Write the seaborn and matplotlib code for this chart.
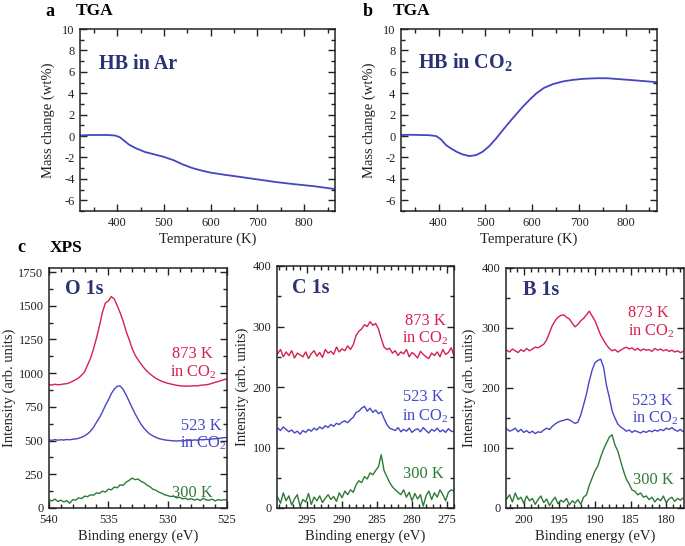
import numpy as np
import pandas as pd
import seaborn as sns
import matplotlib
matplotlib.use("Agg")
import matplotlib.pyplot as plt
from matplotlib.ticker import MultipleLocator

# ---------------- data ----------------
# TGA, HB in Ar
temp_ar = [320, 340, 360, 380, 395, 405, 415, 425, 440, 460, 480, 500, 520, 540, 560,
           580, 600, 630, 660, 700, 740, 780, 820, 866]
mass_ar = [0.05, 0.1, 0.1, 0.1, 0.05, -0.1, -0.45, -0.8, -1.15, -1.5, -1.72, -1.95, -2.25,
           -2.65, -2.98, -3.22, -3.42, -3.62, -3.8, -4.05, -4.3, -4.5, -4.68, -4.95]
# TGA, HB in CO2
temp_co2 = [320, 340, 360, 380, 395, 405, 416, 428, 440, 452, 466, 480, 494, 508, 523, 537,
            552, 566, 580, 595, 609, 625, 644, 665, 687, 710, 737, 760, 787, 820, 866]
mass_co2 = [0.1, 0.12, 0.1, 0.08, 0.0, -0.3, -0.84, -1.2, -1.5, -1.72, -1.87, -1.78, -1.47,
            -0.95, -0.22, 0.55, 1.34, 2.05, 2.75, 3.42, 4.0, 4.5, 4.85, 5.1, 5.25, 5.35, 5.4,
            5.4, 5.31, 5.2, 5.03]

# XPS O 1s (binding energy 540.00 -> 525.00 eV, 0.25 eV step)
o1s_energy = np.round(np.arange(540.0, 524.99, -0.25), 2)
o1s_873 = [915, 912, 918, 914, 916, 920, 922, 930, 940, 952, 965, 985, 1010, 1060, 1110,
           1180, 1260, 1350, 1450, 1520, 1535, 1568, 1550, 1500, 1447, 1385, 1310, 1250,
           1185, 1135, 1100, 1068, 1040, 1015, 995, 978, 962, 950, 940, 932, 925, 920, 915,
           910, 907, 905, 903, 905, 904, 907, 906, 910, 912, 914, 918, 925, 932, 938, 945,
           952, 958]
o1s_523 = [505, 502, 507, 503, 506, 504, 508, 506, 510, 512, 517, 525, 535, 550, 570, 598,
           635, 670, 712, 760, 801, 848, 882, 903, 905, 880, 838, 792, 745, 700, 660, 622,
           592, 568, 548, 535, 524, 515, 510, 505, 502, 500, 498, 497, 499, 496, 500, 502,
           501, 505, 503, 507, 506, 509, 508, 512, 514, 516, 519, 521, 524]
o1s_300 = [60, 52, 66, 48, 58, 45, 55, 35, 62, 58, 75, 70, 88, 84, 98, 95, 112, 108, 125,
           118, 140, 135, 155, 150, 172, 168, 192, 205, 222, 210, 215, 198, 188, 170, 158,
           140, 132, 118, 110, 98, 92, 85, 88, 75, 80, 68, 72, 62, 70, 58, 66, 55, 72, 60,
           58, 66, 52, 63, 56, 62, 58]

# XPS C 1s (299.2 -> 274.0 eV, 0.4 eV step)
c1s_energy = np.round(np.arange(299.2, 273.99, -0.4), 1)
c1s_873 = [255, 262, 250, 258, 252, 260, 248, 256, 253, 250,
           258, 247, 255, 260, 251, 257, 249, 262, 256, 259,
           254, 266, 258, 263, 260, 268, 262, 270, 285, 292,
           296, 303, 300, 308, 302, 305, 296, 280, 266, 262,
           264, 256, 260, 252, 258, 255, 262, 250, 257, 253,
           248, 259, 254, 250, 247, 256, 252, 258, 250, 262,
           254, 257, 265, 252]
c1s_523 = [132, 128, 134, 130, 126, 129, 124, 127, 122, 128,
           125, 130, 127, 132, 129, 134, 131, 136, 133, 138,
           135, 140, 138, 142, 144, 141, 146, 150, 158, 160,
           165, 168, 160, 165, 158, 162, 156, 159, 148, 138,
           132, 130, 128, 133, 126, 130, 127, 132, 125, 129,
           131, 126, 133, 128, 124, 130, 127, 132, 126, 129,
           125, 131, 127, 126]
c1s_300 = [18, 8, 25, 12, 20, 5, 15, 22, 3, 14,
           10, 24, 6, 18, 12, 20, 9, 16, 22, 14,
           19, 11, 25, 17, 28, 22, 30, 26, 38, 45,
           42, 52, 48, 58, 55, 62, 68, 88, 62, 52,
           42, 35, 30, 26, 22, 30, 18, 26, 12, 24,
           15, 22, 3, 20, 28, 14, 25, 18, 30, 22,
           12, 26, 30, 28]

# XPS B 1s (202.4 -> 177.6 eV, 0.4 eV step)
b1s_energy = np.round(np.arange(202.4, 177.59, -0.4), 1)
b1s_873 = [263, 260, 265, 262, 259, 264, 261, 266, 262, 265,
           268, 267, 270, 273, 280, 292, 304, 312, 318, 321,
           322, 318, 315, 308, 302, 306, 312, 316, 322, 328,
           320, 312, 300, 288, 280, 272, 266, 262, 264, 260,
           263, 266, 268, 265, 267, 263, 266, 262, 265, 263,
           264, 261, 266, 263, 265, 262, 264, 261, 263, 260,
           262, 259, 261]
b1s_523 = [132, 128, 130, 133, 127, 131, 126, 129, 125, 128,
           124, 127, 126, 130, 133, 131, 136, 140, 143, 145,
           146, 148, 147, 144, 141, 143, 155, 172, 190, 212,
           230, 242, 246, 248, 235, 205, 185, 162, 150, 140,
           135, 132, 128, 130, 126, 129, 127, 125, 128, 126,
           129, 127, 130, 128, 131, 129, 133, 131, 134, 130,
           128, 131, 127]
b1s_300 = [15, 22, 10, 25, 14, 18, 8, 20, 12, 16,
           6, 14, 20, 9, 15, 4, 12, 18, 7, 13,
           10, 16, 5, 12, 8, 14, 6, 18, 22, 38,
           50, 62, 70, 85, 98, 108, 118, 122, 105, 95,
           78, 62, 48, 40, 30, 28, 22, 25, 18, 20,
           14, 18, 10, 16, 12, 20, 9, 15, 18, 11,
           16, 13, 17]

series_labels = ["873 K", "523 K", "300 K"]

# ---------------- style ----------------
sns.set_theme(style="ticks")
plt.rcParams["font.family"] = ["Liberation Serif", "DejaVu Serif"]
plt.rcParams["mathtext.fontset"] = "custom"
plt.rcParams["mathtext.rm"] = "Liberation Serif"
plt.rcParams["mathtext.bf"] = "Liberation Serif:bold"
plt.rcParams["axes.unicode_minus"] = False

NAVY = "#2b3374"
LINE_BLUE = "#4545c2"
RED = "#d61f4f"
BLUE = "#4646c6"
GREEN = "#2e7a36"

W, H = 685, 546
fig = plt.figure(figsize=(W / 100, H / 100), dpi=100)


def add_ax(l, t, r, b):
    return fig.add_axes([l / W, 1 - b / H, (r - l) / W, (b - t) / H])


def ftext(x, y, s, **kw):
    fig.text(x / W, 1 - y / H, s, **kw)


def style(ax, xmaj, xmin, ymaj, ymin):
    ax.xaxis.set_major_locator(MultipleLocator(xmaj))
    ax.xaxis.set_minor_locator(MultipleLocator(xmin))
    ax.yaxis.set_major_locator(MultipleLocator(ymaj))
    ax.yaxis.set_minor_locator(MultipleLocator(ymin))
    ax.tick_params(which="both", direction="in", top=True, right=True,
                   width=1.0, color="#222222", labelsize=9, labelcolor="#222222", pad=4)
    ax.tick_params(which="major", length=5)
    ax.tick_params(which="minor", length=3)
    for s in ax.spines.values():
        s.set_linewidth(1.1)
        s.set_color("#222222")
        s.set_visible(True)


# ---------------- TGA a ----------------
ax_a = add_ax(80, 29, 335, 211)
sns.lineplot(x=temp_ar, y=mass_ar, ax=ax_a, color=LINE_BLUE, linewidth=1.3)
ax_a.set_xlim(320, 866)
ax_a.set_ylim(-7, 10)
style(ax_a, 100, 50, 2, 1)
ax_a.set_xlabel("Temperature (K)", fontsize=10.5, labelpad=3, color="#222222")
ax_a.set_ylabel("Mass change (wt%)", fontsize=10.5, labelpad=5, color="#222222")

# ---------------- TGA b ----------------
ax_b = add_ax(401, 29, 657, 211)
sns.lineplot(x=temp_co2, y=mass_co2, ax=ax_b, color=LINE_BLUE, linewidth=1.3)
ax_b.set_xlim(320, 866)
ax_b.set_ylim(-7, 10)
style(ax_b, 100, 50, 2, 1)
ax_b.set_xlabel("Temperature (K)", fontsize=10.5, labelpad=3, color="#222222")
ax_b.set_ylabel("Mass change (wt%)", fontsize=10.5, labelpad=5, color="#222222")

# ---------------- XPS ----------------
ax_o = add_ax(49, 268, 227, 508)
ax_c = add_ax(277, 266, 454, 508)
ax_bb = add_ax(506, 268, 684, 508)

colors = [RED, BLUE, GREEN]
for ax, en, ys in [(ax_o, o1s_energy, [o1s_873, o1s_523, o1s_300]),
                   (ax_c, c1s_energy, [c1s_873, c1s_523, c1s_300]),
                   (ax_bb, b1s_energy, [b1s_873, b1s_523, b1s_300])]:
    for y, c in zip(ys, colors):
        sns.lineplot(x=en, y=y, ax=ax, color=c, linewidth=1.0)
    ax.set_xlabel("Binding energy (eV)", fontsize=10.5, labelpad=3, color="#222222")

ax_o.set_xlim(540, 525)
ax_o.set_ylim(0, 1780)
style(ax_o, 5, 1, 250, 125)
ax_o.set_ylabel("Intensity (arb. units)", fontsize=10.5, labelpad=2, color="#222222")

ax_c.set_xlim(299.3, 274)
ax_c.set_ylim(0, 400)
style(ax_c, 5, 1, 100, 50)
ax_c.set_ylabel("Intensity (arb. units)", fontsize=10.5, labelpad=3, color="#222222")

ax_bb.set_xlim(202.5, 177.5)
ax_bb.set_ylim(0, 400)
style(ax_bb, 5, 1, 100, 50)
ax_bb.set_ylabel("Intensity (arb. units)", fontsize=10.5, labelpad=4, color="#222222")

# series annotations (axes fractions)
ann = {
    ax_o: [(0.691, 0.623, series_labels[0], RED), (0.680, 0.548, "in CO$_2$", RED),
           (0.742, 0.323, series_labels[1], BLUE), (0.737, 0.252, "in CO$_2$", BLUE),
           (0.691, 0.044, series_labels[2], GREEN)],
    ax_c: [(0.723, 0.758, series_labels[0], RED), (0.706, 0.684, "in CO$_2$", RED),
           (0.712, 0.444, series_labels[1], BLUE), (0.706, 0.362, "in CO$_2$", BLUE),
           (0.714, 0.126, series_labels[2], GREEN)],
    ax_bb: [(0.685, 0.794, series_labels[0], RED), (0.685, 0.719, "in CO$_2$", RED),
            (0.708, 0.431, series_labels[1], BLUE), (0.706, 0.356, "in CO$_2$", BLUE),
            (0.713, 0.102, series_labels[2], GREEN)],
}
for ax, items in ann.items():
    for x, y, s, c in items:
        ax.text(x, y, s, transform=ax.transAxes, ha="left", va="baseline",
                fontsize=11.8, color=c)

# ---------------- panel texts ----------------
bold = dict(fontweight="bold", va="center", ha="left", color="black")
ftext(45, 11, "a", fontsize=13, **bold)
ftext(76, 11, "TGA", fontsize=12.5, **bold)
ftext(363, 11, "b", fontsize=13, **bold)
ftext(393, 11, "TGA", fontsize=12.5, **bold)
ftext(17, 248, "c", fontsize=13, **bold)
ftext(50, 248, "XPS", fontsize=12.5, **bold)

nb = dict(fontweight="bold", va="baseline", ha="left", color=NAVY, fontsize=14.5)
ftext(99, 69, "HB in Ar", **nb)
ftext(418, 69, r"HB in CO$_\mathbf{2}$", **nb)
ftext(65, 294, "O 1s", **nb)
ftext(292, 293, "C 1s", **nb)
ftext(523, 295, "B 1s", **nb)

fig.savefig("out.png", dpi=100)
